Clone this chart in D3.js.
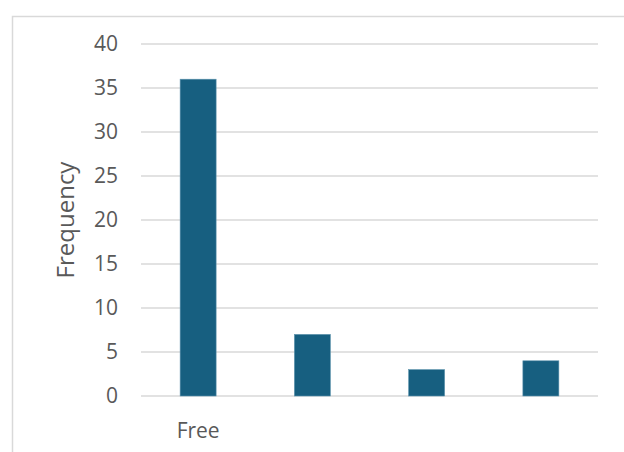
<!DOCTYPE html>
<html><head><meta charset="utf-8">
<script src="https://cdn.jsdelivr.net/npm/d3@7"></script>
<style>body{margin:0;background:#fff;}svg{display:block;}</style>
</head><body>
<script>
const categories = ["Free", "", " ", "  "];
const values = [36, 7, 3, 4];
const yTicks = [0, 5, 10, 15, 20, 25, 30, 35, 40];
const yTitle = "Frequency";

(function () {
const W = 624, H = 452;
const svg = d3.select("body").append("svg").attr("width", W).attr("height", H);
const font = "'Open Sans', 'Noto Sans', sans-serif";

// outer frame
svg.append("rect").attr("x", 12.5).attr("y", 16.5).attr("width", 640).attr("height", 460)
  .attr("fill", "none").attr("stroke", "#d9d9d9").attr("stroke-width", 1.5);

const pLeft = 141, pRight = 598, pTop = 44, pBottom = 396;
const x = d3.scaleBand().domain(categories).range([pLeft, pRight]).padding(0);
const y = d3.scaleLinear().domain([0, 40]).range([pBottom, pTop]);

// gridlines
svg.append("g").selectAll("line").data(yTicks).join("line")
  .attr("x1", pLeft).attr("x2", pRight)
  .attr("y1", d => y(d)).attr("y2", d => y(d))
  .attr("stroke", "#d9d9d9").attr("stroke-width", 1.5);

// y axis labels
const yAxis = d3.axisLeft(y).tickValues(yTicks).tickSize(0).tickPadding(0);
const gy = svg.append("g").attr("transform", `translate(118,0)`).call(yAxis);
gy.select(".domain").remove();
gy.selectAll("text").attr("font-family", font).attr("font-size", 21).attr("fill", "#595959");

// bars
const bw = x.bandwidth() * 0.315;
svg.append("g").selectAll("rect").data(values).join("rect")
  .attr("x", (d, i) => x(categories[i]) + x.bandwidth() / 2 - bw / 2)
  .attr("width", bw)
  .attr("y", d => y(d))
  .attr("height", d => y(0) - y(d))
  .attr("fill", "#175f80")
  .attr("stroke", "#5d93ad").attr("stroke-width", 0.6);

// x axis labels
const xAxis = d3.axisBottom(x).tickSize(0).tickPadding(0);
const gx = svg.append("g").attr("transform", `translate(0,${pBottom + 27})`).call(xAxis);
gx.select(".domain").remove();
gx.selectAll("text").attr("font-family", font).attr("font-size", 21).attr("fill", "#595959");

// y title
svg.append("text").attr("transform", `translate(74,${(pTop + pBottom) / 2}) rotate(-90)`)
  .attr("text-anchor", "middle").attr("font-family", font).attr("font-size", 24)
  .attr("fill", "#595959").text(yTitle);
})();
</script>
</body></html>
